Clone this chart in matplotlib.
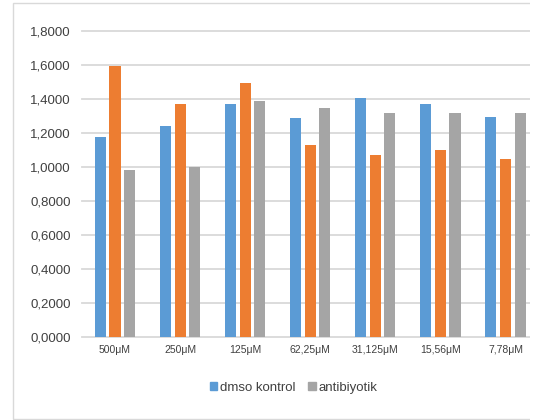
import matplotlib
matplotlib.use("Agg")
import matplotlib.pyplot as plt
from matplotlib.patches import Rectangle, Patch
import numpy as np

plt.rcParams['font.family'] = ['Liberation Sans', 'DejaVu Sans']

categories = ["500μM", "250μM", "125μM", "62,25μM", "31,125μM", "15,56μM", "7,78μM"]
dmso_kontrol = [1.178, 1.241, 1.372, 1.288, 1.404, 1.369, 1.294]
ornek = [1.596, 1.370, 1.496, 1.127, 1.068, 1.101, 1.045]
antibiyotik = [0.982, 0.998, 1.388, 1.345, 1.316, 1.316, 1.316]
yticks = [0.0, 0.2, 0.4, 0.6, 0.8, 1.0, 1.2, 1.4, 1.6, 1.8]

BLUE = "#5B9BD5"
ORANGE = "#ED7D31"
GRAY = "#A5A5A5"
GRID = "#D9D9D9"
TEXT = "#404040"

W, H = 536, 420
fig = plt.figure(figsize=(W / 100, H / 100), dpi=100)

# outer chart frame
fig.patches.append(Rectangle((12.7 / W, 0.7 / H), 1.2, (419.3 - 2.7) / H,
                             transform=fig.transFigure, fill=False,
                             edgecolor=GRID, lw=1.0, zorder=0))

left, right = 82.46, 538.0
bottom, top = 336.7, 31.0
ax = fig.add_axes([left / W, (H - bottom) / H, (right - left) / W, (bottom - top) / H])

x = np.arange(len(categories))
step, width = 0.225, 0.17
ax.bar(x - step, dmso_kontrol, width, color=BLUE, zorder=3)
ax.bar(x, ornek, width, color=ORANGE, zorder=3)
ax.bar(x + step, antibiyotik, width, color=GRAY, zorder=3)

ax.set_xlim(-0.5, len(categories) - 0.5)
ax.set_ylim(0, 1.8)
ax.set_yticks(yticks)
ax.set_yticklabels([f"{v:.4f}".replace(".", ",") for v in yticks])
ax.set_xticks(x)
ax.set_xticklabels(categories)

for s in ax.spines.values():
    s.set_visible(False)
ax.yaxis.grid(True, color=GRID, lw=1.3)
ax.set_axisbelow(True)
for gl in ax.get_ygridlines():
    gl.set_clip_on(False)
ax.tick_params(axis='y', length=0, pad=8.5, labelsize=9.5, labelcolor=TEXT)
ax.tick_params(axis='x', length=0, pad=6, labelsize=7.5, labelcolor=TEXT)

handles = [Patch(color=BLUE, label="dmso kontrol"), Patch(color=GRAY, label="antibiyotik")]
fig.legend(handles=handles, loc='center', bbox_to_anchor=(293.5 / W, 1 - 388 / H),
           ncol=2, frameon=False, fontsize=9.5, handlelength=0.55, handleheight=0.55,
           handletextpad=0.2, columnspacing=1.0, labelcolor=TEXT)

# chart area ends at the right margin
fig.patches.append(Rectangle((530 / W, 0), 1, 1, transform=fig.transFigure,
                             facecolor="white", edgecolor="none", zorder=10))

fig.savefig("out.png", dpi=100)
